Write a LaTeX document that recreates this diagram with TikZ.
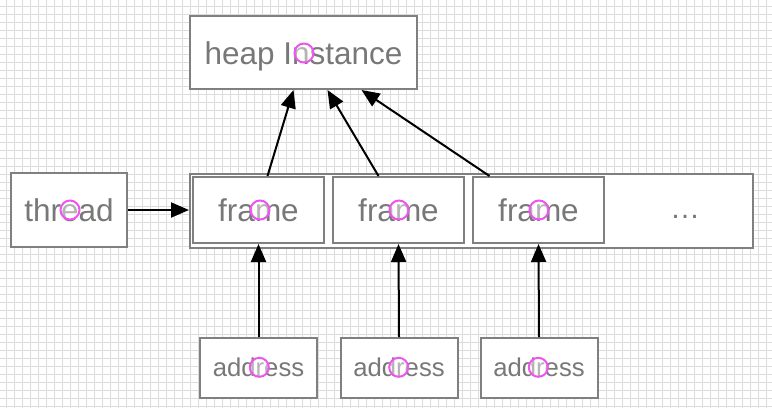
\documentclass[tikz,border=0pt]{standalone}
\usepackage{fontspec}
\setmainfont{Liberation Sans}
\usetikzlibrary{arrows.meta,calc}
\definecolor{boxgray}{HTML}{808080}
\definecolor{txtgray}{HTML}{787878}
\definecolor{gridc}{HTML}{DCDCDC}
\definecolor{pinkc}{HTML}{EE55EE}
\tikzset{
  box/.style={draw=boxgray, line width=2pt, fill=white, inner sep=0pt, text=txtgray,
    font=\fontsize{31.5pt}{36pt}\selectfont, text height=23pt, text depth=0pt},
  smallbox/.style={box, font=\fontsize{25.7pt}{30pt}\selectfont, text height=16pt},
  conn/.style={line width=2pt, -{Triangle[length=18pt,width=15pt]}},
  pinkring/.style={circle, draw=pinkc, line width=2pt, fill=white, fill opacity=0.45,
    draw opacity=1, minimum size=19pt, inner sep=0pt},
  gridline/.style={draw=gridc, line width=1pt}
}
\begin{document}
\begin{tikzpicture}[x=1pt,y=-1pt]
\useasboundingbox (0,0) rectangle (772,408);
\fill[white] (0,0) rectangle (772,408);
\foreach \i in {0,...,95} \draw[gridline] (6.5+8*\i,0) -- (6.5+8*\i,408);
\foreach \j in {0,...,50} \draw[gridline] (0,6.5+8*\j) -- (772,6.5+8*\j);

% boxes
\node[box, minimum width=227pt, minimum height=73pt] (heap) at (303.5,52.5) {heap Instance};
\node[box, minimum width=116pt, minimum height=74pt] (thread) at (69,210) {thread};
\node[box, minimum width=563pt, minimum height=74pt] (stack) at (471.5,211) {};
\node[box, minimum width=131pt, minimum height=66pt] (f1) at (258.5,210) {frame};
\node[box, minimum width=131pt, minimum height=66pt] (f2) at (398.5,210) {frame};
\node[box, minimum width=131pt, minimum height=66pt] (f3) at (538.5,210) {frame};
\node[anchor=base, text=txtgray, font=\fontsize{30pt}{34pt}\selectfont, inner sep=0pt] (dots) at (685,218) {…};
\node[smallbox, minimum width=117pt, minimum height=60pt] (a1) at (258.5,368) {address};
\node[smallbox, minimum width=117pt, minimum height=60pt] (a2) at (399,368) {address};
\node[smallbox, minimum width=117pt, minimum height=60pt] (a3) at (539,368) {address};

% connectors
\draw[conn] (thread.east) -- (thread.east -| stack.west);
\draw[conn] (a1.north) -- (f1.south);
\draw[conn] (a2.north) -- (f2.south);
\draw[conn] (a3.north) -- (f3.south);
\draw[conn] ([xshift=9pt]f1.north) -- ([xshift=-10pt]heap.south);
\draw[conn] ([xshift=-20pt]f2.north) -- ([xshift=24pt]heap.south);
\draw[conn] ([xshift=-49pt]f3.north) -- ([xshift=58pt]heap.south);

% pink rings
\node[pinkring] (r0) at (304,53) {};
\node[pinkring] (r1) at (70,210) {};
\node[pinkring] (r2) at (260,210) {};
\node[pinkring] (r3) at (399,210) {};
\node[pinkring] (r4) at (539,210) {};
\node[pinkring] (r5) at (259.3,367.3) {};
\node[pinkring] (r6) at (398.7,367.3) {};
\node[pinkring] (r7) at (538.3,367.3) {};
\end{tikzpicture}
\end{document}
